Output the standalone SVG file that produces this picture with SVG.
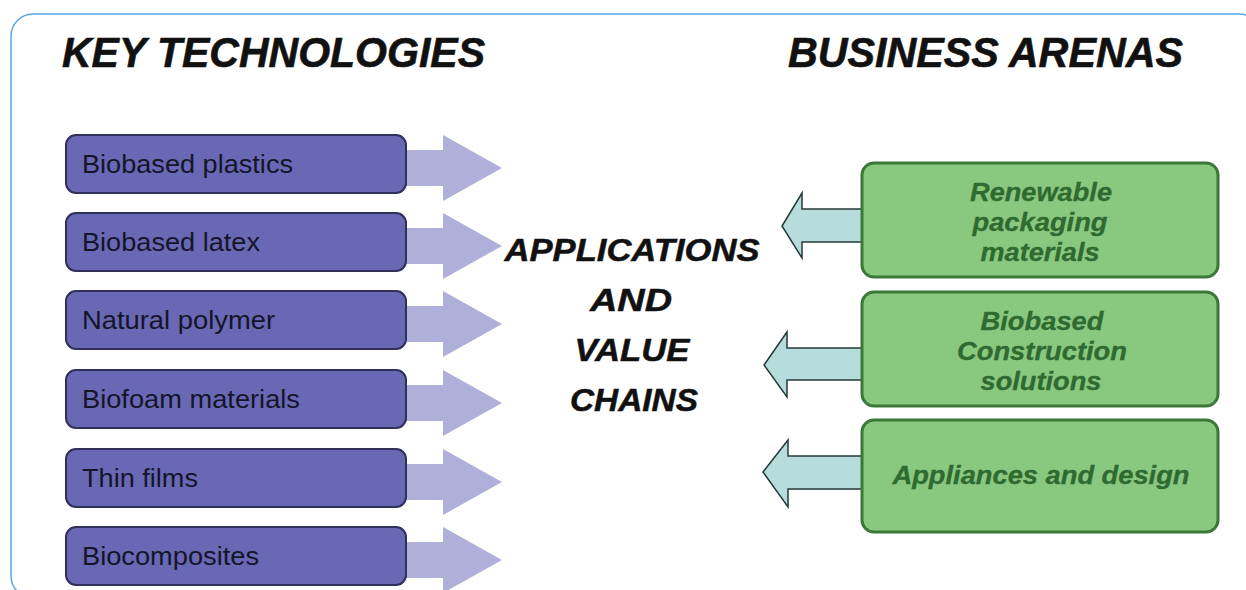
<svg xmlns="http://www.w3.org/2000/svg" width="1246" height="590" viewBox="0 0 1246 590">
  <style>
    .frame { fill: #ffffff; stroke: #5aa6e2; stroke-width: 1.5; }
    .heading { font-family: "Liberation Sans", Arial, sans-serif; font-weight: bold; font-style: italic; font-size: 42px; fill: #111111; stroke: #111111; stroke-width: 0.6; }
    .center { font-family: "Liberation Sans", Arial, sans-serif; font-weight: bold; font-style: italic; font-size: 32px; fill: #111111; stroke: #111111; stroke-width: 0.5; text-anchor: middle; }
    .tech rect { fill: #6868b4; stroke: #30305a; stroke-width: 2; }
    .tech text { font-family: "Liberation Sans", Arial, sans-serif; font-size: 25px; fill: #15152a; }
    .arena rect { fill: #89c97f; stroke: #3b783a; stroke-width: 3; }
    .arena text { font-family: "Liberation Sans", Arial, sans-serif; font-weight: bold; font-style: italic; font-size: 25px; fill: #2f6a30; stroke: #2f6a30; stroke-width: 0.3; text-anchor: middle; }
    .out { fill: #b0afda; }
    .in { fill: #b6dcdc; stroke: #263838; stroke-width: 1.5; stroke-linejoin: miter; }
  </style>
  <defs>
    <!-- right-pointing block arrow, origin at shaft start / centre line -->
    <path id="outArrow" class="out" d="M0,-18 H38 V-33 L97,0 L38,33 V18 H0 Z"/>
  </defs>

  <rect class="frame" x="11" y="14" width="1250" height="584" rx="22"/>

  <text class="heading" x="62" y="67" textLength="423" lengthAdjust="spacingAndGlyphs">KEY TECHNOLOGIES</text>
  <text class="heading" x="788" y="67" textLength="395" lengthAdjust="spacingAndGlyphs">BUSINESS ARENAS</text>

  <!-- connectors -->
  <g id="connectors">
    <use href="#outArrow" x="405" y="168"/>
    <use href="#outArrow" x="405" y="246"/>
    <use href="#outArrow" x="405" y="324"/>
    <use href="#outArrow" x="405" y="403"/>
    <use href="#outArrow" x="405" y="482"/>
    <use href="#outArrow" x="405" y="560"/>
    <path class="in" d="M862,209 H802 V193 L782,226 L802,258 V242 H862"/>
    <path class="in" d="M862,348 H787 V332 L764,365 L787,397 V380 H862"/>
    <path class="in" d="M862,456 H788 V440 L763,472 L788,507 V489 H862"/>
  </g>

  <!-- key technologies -->
  <g id="tech-plastics" class="tech">
    <rect x="66" y="135" width="340" height="58" rx="10"/>
    <text x="82" y="173" textLength="211" lengthAdjust="spacingAndGlyphs">Biobased plastics</text>
  </g>
  <g id="tech-latex" class="tech">
    <rect x="66" y="213" width="340" height="58" rx="10"/>
    <text x="82" y="251" textLength="178" lengthAdjust="spacingAndGlyphs">Biobased latex</text>
  </g>
  <g id="tech-polymer" class="tech">
    <rect x="66" y="291" width="340" height="58" rx="10"/>
    <text x="82" y="329" textLength="193" lengthAdjust="spacingAndGlyphs">Natural polymer</text>
  </g>
  <g id="tech-biofoam" class="tech">
    <rect x="66" y="370" width="340" height="58" rx="10"/>
    <text x="82" y="408" textLength="218" lengthAdjust="spacingAndGlyphs">Biofoam materials</text>
  </g>
  <g id="tech-films" class="tech">
    <rect x="66" y="449" width="340" height="58" rx="10"/>
    <text x="82" y="487" textLength="116" lengthAdjust="spacingAndGlyphs">Thin films</text>
  </g>
  <g id="tech-composites" class="tech">
    <rect x="66" y="527" width="340" height="58" rx="10"/>
    <text x="82" y="565" textLength="177" lengthAdjust="spacingAndGlyphs">Biocomposites</text>
  </g>

  <!-- centre label -->
  <g id="value-chains">
    <text class="center" x="632" y="261" textLength="255" lengthAdjust="spacingAndGlyphs">APPLICATIONS</text>
    <text class="center" x="631" y="311" textLength="82" lengthAdjust="spacingAndGlyphs">AND</text>
    <text class="center" x="632" y="361" textLength="115" lengthAdjust="spacingAndGlyphs">VALUE</text>
    <text class="center" x="634" y="411" textLength="128" lengthAdjust="spacingAndGlyphs">CHAINS</text>
  </g>

  <!-- business arenas -->
  <g id="arena-packaging" class="arena">
    <rect x="862" y="163" width="356" height="114" rx="12"/>
    <text x="1041" y="201" textLength="142" lengthAdjust="spacingAndGlyphs">Renewable</text>
    <text x="1040" y="231" textLength="135" lengthAdjust="spacingAndGlyphs">packaging</text>
    <text x="1040" y="261" textLength="119" lengthAdjust="spacingAndGlyphs">materials</text>
  </g>
  <g id="arena-construction" class="arena">
    <rect x="862" y="292" width="356" height="114" rx="12"/>
    <text x="1042" y="330" textLength="123" lengthAdjust="spacingAndGlyphs">Biobased</text>
    <text x="1042" y="360" textLength="170" lengthAdjust="spacingAndGlyphs">Construction</text>
    <text x="1041" y="390" textLength="121" lengthAdjust="spacingAndGlyphs">solutions</text>
  </g>
  <g id="arena-appliances" class="arena">
    <rect x="862" y="420" width="356" height="112" rx="12"/>
    <text x="1041" y="484" textLength="297" lengthAdjust="spacingAndGlyphs">Appliances and design</text>
  </g>
</svg>
